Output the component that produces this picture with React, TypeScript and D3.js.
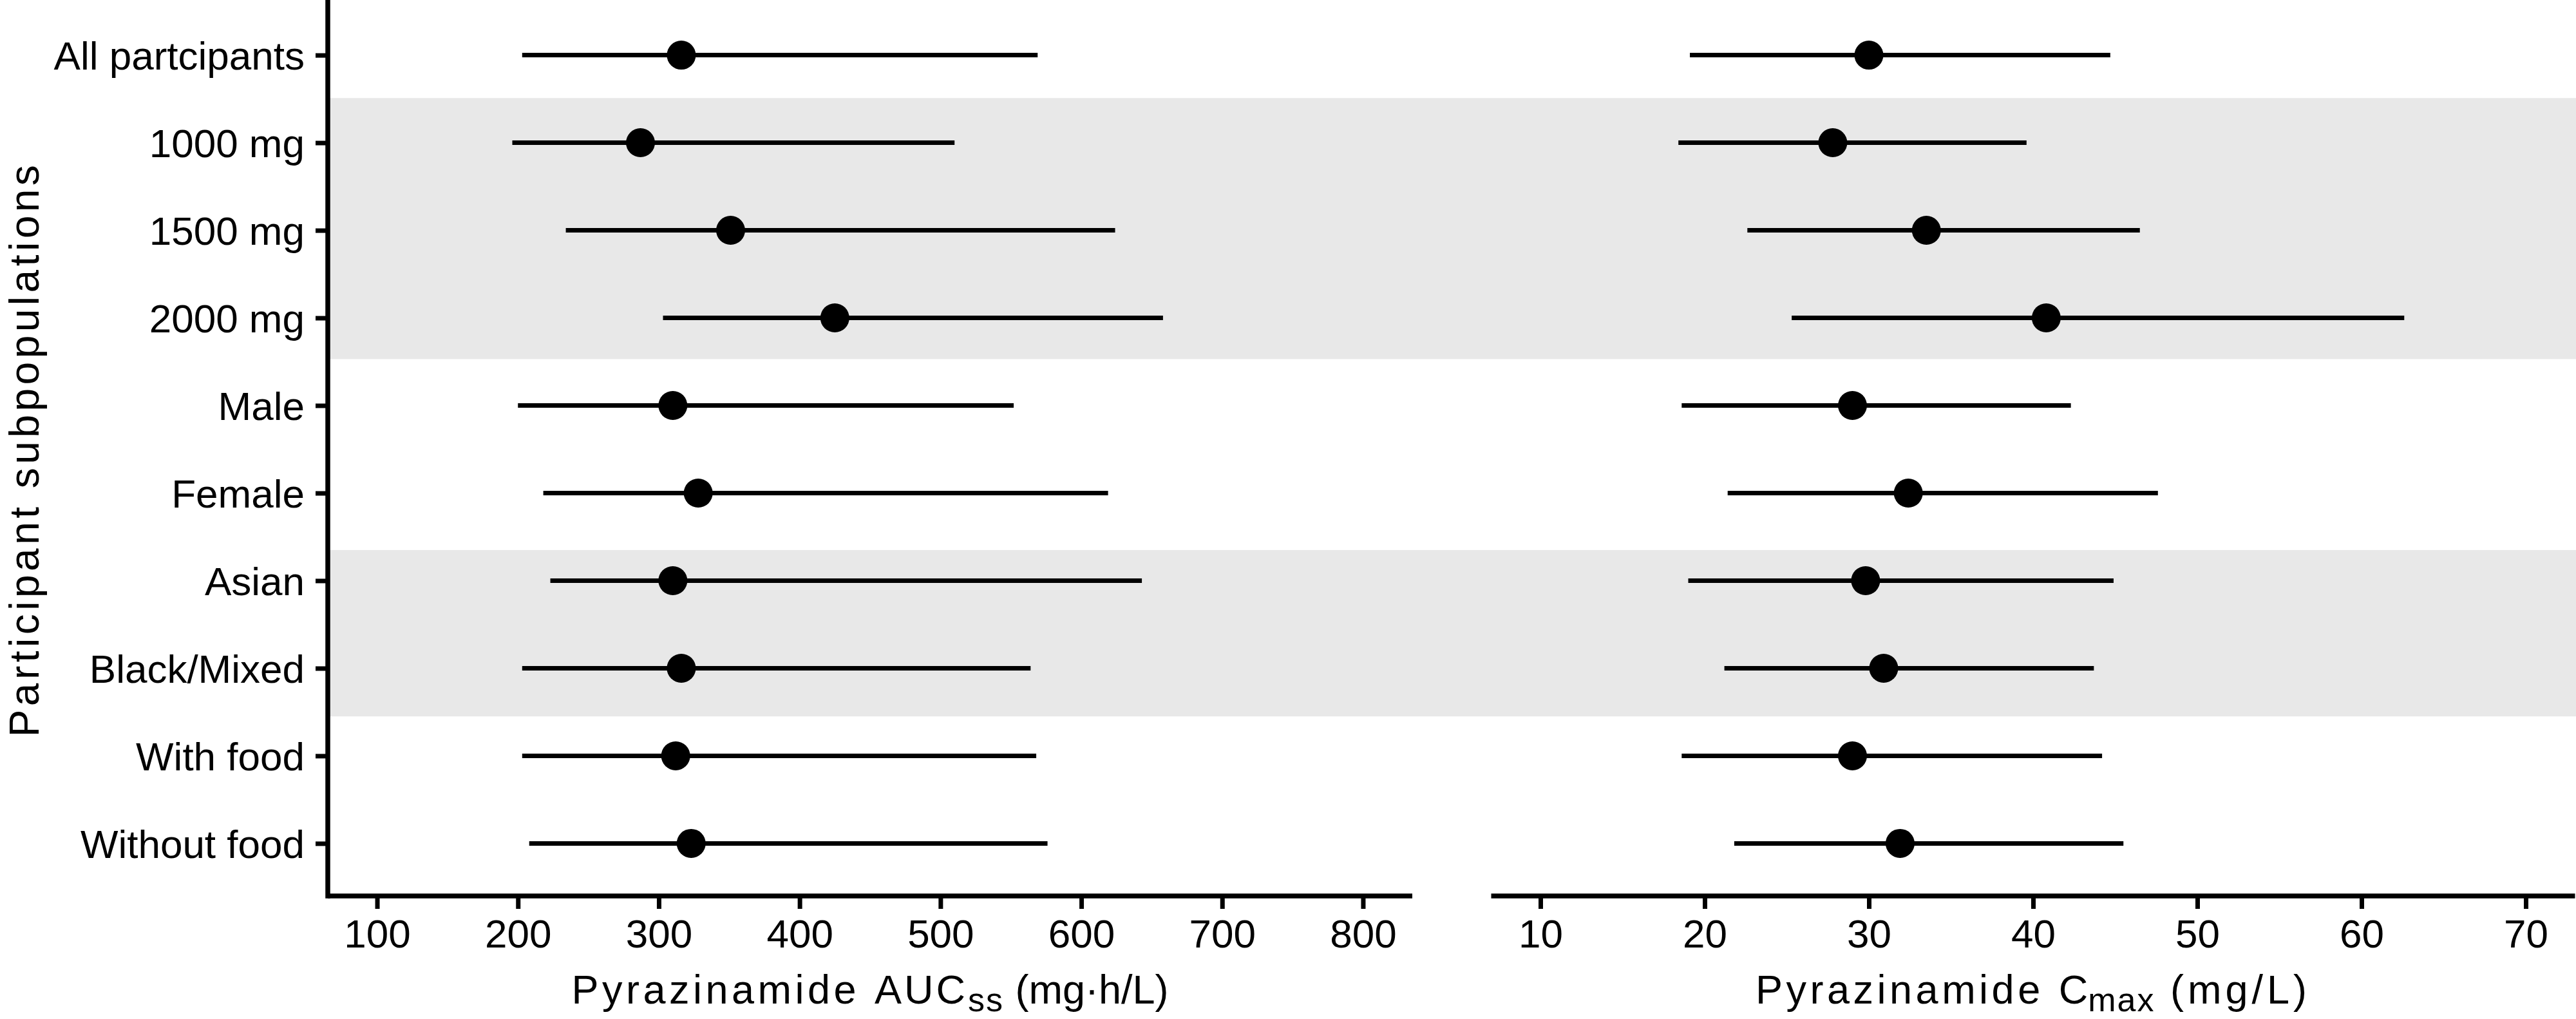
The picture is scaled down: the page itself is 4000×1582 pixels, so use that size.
import React, { useEffect, useRef } from 'react';
import * as d3 from 'd3';

// subgroups, top to bottom
const groups = [
  'All partcipants', '1000 mg', '1500 mg', '2000 mg', 'Male',
  'Female', 'Asian', 'Black/Mixed', 'With food', 'Without food',
];

// AUCss (mg·h/L): median and range
const aucMedian = [316, 287, 351, 425, 310, 328, 310, 316, 312, 323];
const aucLower = [203, 196, 234, 303, 200, 218, 223, 203, 203, 208];
const aucUpper = [569, 510, 624, 658, 552, 619, 643, 564, 568, 576];

// Cmax (mg/L): median and range
const cmaxMedian = [30.0, 27.8, 33.5, 40.8, 29.0, 32.4, 29.8, 30.9, 29.0, 31.9];
const cmaxLower = [19.1, 18.4, 22.6, 25.3, 18.6, 21.4, 19.0, 21.2, 18.6, 21.8];
const cmaxUpper = [44.7, 39.6, 46.5, 62.6, 42.3, 47.6, 44.9, 43.7, 44.2, 45.5];

const aucTicks = [100, 200, 300, 400, 500, 600, 700, 800];
const cmaxTicks = [10, 20, 30, 40, 50, 60, 70];

// shaded groups, in row units (dose and race)
const bandFrom = [0.49, 5.65];
const bandTo = [3.47, 7.55];

const FONT = '"Liberation Sans", Arial, Helvetica, sans-serif';

function App() {
  const ref = useRef<SVGSVGElement>(null);

  useEffect(() => {
    const width = 4000, height = 1582;
    const top = 4, bottom = 1391;
    const lw = 7.5;

    const svg = d3.select(ref.current);
    svg.selectAll('*').remove();
    svg.attr('width', width).attr('height', height);

    const y = d3.scaleLinear().domain([-0.6, groups.length - 0.4]).range([top, bottom]);
    const xAuc = d3.scaleLinear().domain([65, 835]).range([509, 2193]);
    const xCmax = d3.scaleLinear().domain([7, 73]).range([2315.5, 3998.5]);

    // grey bands go right across both panels
    svg.append('g')
      .selectAll('rect')
      .data(bandFrom)
      .enter()
      .append('rect')
      .attr('x', xAuc.range()[0])
      .attr('width', width - xAuc.range()[0])
      .attr('y', d => y(d))
      .attr('height', (d, i) => y(bandTo[i]) - y(d))
      .style('fill', '#e8e8e8');

    const panels = [
      { x: xAuc, med: aucMedian, lo: aucLower, hi: aucUpper, ticks: aucTicks },
      { x: xCmax, med: cmaxMedian, lo: cmaxLower, hi: cmaxUpper, ticks: cmaxTicks },
    ];

    panels.forEach(p => {
      const g = svg.append('g');
      g.selectAll('line.range')
        .data(groups)
        .enter()
        .append('line')
        .attr('class', 'range')
        .attr('x1', (d, i) => p.x(p.lo[i]))
        .attr('x2', (d, i) => p.x(p.hi[i]))
        .attr('y1', (d, i) => y(i))
        .attr('y2', (d, i) => y(i))
        .style('stroke', '#000')
        .style('stroke-width', 7);
      g.selectAll('circle')
        .data(groups)
        .enter()
        .append('circle')
        .attr('cx', (d, i) => p.x(p.med[i]))
        .attr('cy', (d, i) => y(i))
        .attr('r', 22.5)
        .style('fill', '#000');

      // x axis
      const ax = svg.append('g')
        .attr('transform', 'translate(0,' + bottom + ')')
        .call(d3.axisBottom(p.x).tickValues(p.ticks).tickSize(20).tickPadding(16).tickSizeOuter(0));
      ax.select('.domain').remove();
      ax.selectAll('line').style('stroke', '#000').style('stroke-width', 7);
      ax.selectAll('text').style('font-family', FONT).style('font-size', '62px').style('fill', '#000');
      svg.append('line')
        .attr('x1', p.x.range()[0]).attr('x2', p.x.range()[1])
        .attr('y1', bottom).attr('y2', bottom)
        .style('stroke', '#000').style('stroke-width', lw);
    });

    // y axis, left panel only
    const ay = svg.append('g')
      .attr('transform', 'translate(' + xAuc.range()[0] + ',0)')
      .call(d3.axisLeft(y).tickValues(d3.range(groups.length)).tickFormat(i => groups[i as number])
        .tickSize(19).tickPadding(17).tickSizeOuter(0));
    ay.select('.domain').remove();
    ay.selectAll('line').style('stroke', '#000').style('stroke-width', 7);
    ay.selectAll('text').attr('dy', '0.36em')
      .style('font-family', FONT).style('font-size', '62px').style('fill', '#000');
    svg.append('line')
      .attr('x1', xAuc.range()[0]).attr('x2', xAuc.range()[0])
      .attr('y1', 0).attr('y2', bottom + lw / 2)
      .style('stroke', '#000').style('stroke-width', lw);

    // axis titles
    const titleY = 1558;
    const t1 = svg.append('text')
      .attr('x', (xAuc.range()[0] + xAuc.range()[1]) / 2)
      .attr('y', titleY)
      .attr('text-anchor', 'middle')
      .style('font-family', FONT).style('font-size', '63px');
    t1.append('tspan').text('Pyrazinamide ').style('letter-spacing', '5.5px');
    t1.append('tspan').text('AUC').style('letter-spacing', '4px');
    t1.append('tspan').text('ss').attr('dy', 12).style('font-size', '52px').style('letter-spacing', '2px');
    t1.append('tspan').text(' (mg·h/L)').attr('dy', -12);

    const t2 = svg.append('text')
      .attr('x', (xCmax.range()[0] + xCmax.range()[1]) / 2)
      .attr('y', titleY)
      .attr('text-anchor', 'middle')
      .style('font-family', FONT).style('font-size', '63px');
    t2.append('tspan').text('Pyrazinamide ').style('letter-spacing', '5.5px');
    t2.append('tspan').text('C');
    t2.append('tspan').text('max').attr('dy', 12).style('font-size', '52px').style('letter-spacing', '2px');
    t2.append('tspan').text(' (mg/L)').attr('dy', -12).style('letter-spacing', '6px');

    svg.append('text')
      .attr('transform', 'translate(60,' + (top + bottom) / 2 + ') rotate(-90)')
      .attr('text-anchor', 'middle')
      .style('font-family', FONT).style('font-size', '64px').style('letter-spacing', '5.5px')
      .text('Participant subpopulations');
  }, []);

  return (
    <svg ref={ref} style={{ position: 'absolute', left: 0, top: 0, background: '#fff' }}></svg>
  );
}

export default App;
